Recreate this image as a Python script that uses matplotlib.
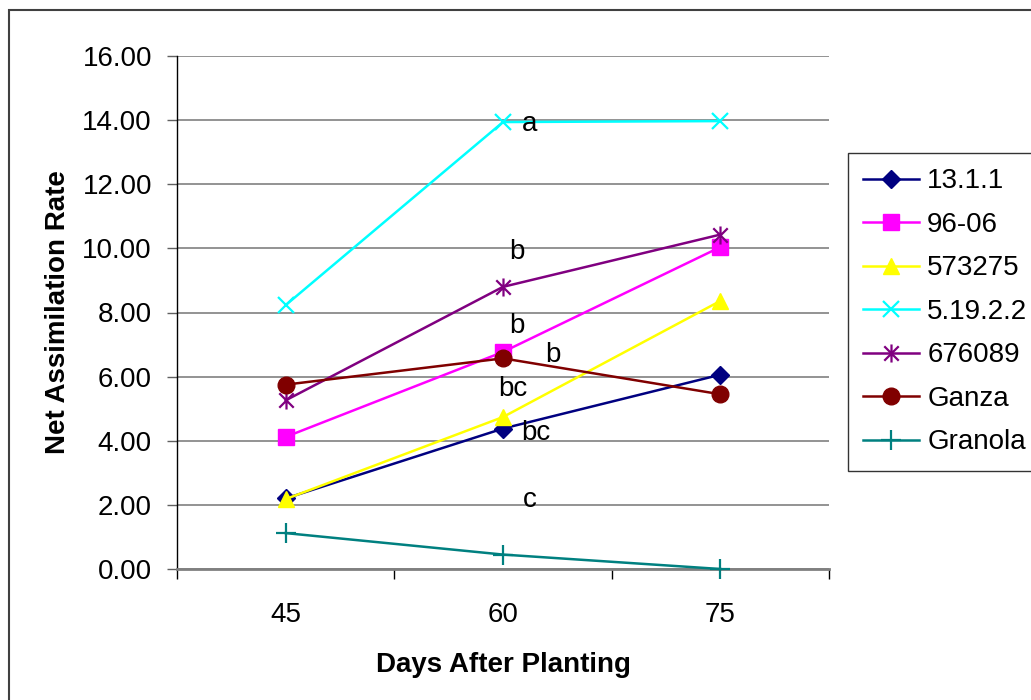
import matplotlib
matplotlib.use("Agg")
import matplotlib.pyplot as plt
from matplotlib.patches import Rectangle
from matplotlib.path import Path
import numpy as np

plt.rcParams["font.family"] = ["Liberation Sans", "DejaVu Sans"]

days = ["45", "60", "75"]
series_names = ["13.1.1", "96-06", "573275", "5.19.2.2", "676089", "Ganza", "Granola"]
v_13_1_1 = [2.20, 4.38, 6.06]
v_96_06 = [4.12, 6.77, 10.04]
v_573275 = [2.18, 4.74, 8.36]
v_5_19_2_2 = [8.23, 13.94, 13.97]
v_676089 = [5.26, 8.80, 10.43]
v_ganza = [5.75, 6.57, 5.45]
v_granola = [1.12, 0.45, 0.00]

# significance letters at 60 DAP (category position, value)
sig_letters = ["a", "b", "b", "b", "bc", "bc", "c"]
sig_x = [1.62, 1.565, 1.565, 1.73, 1.546, 1.652, 1.624]
sig_y = [13.88, 9.89, 7.58, 6.67, 5.61, 4.24, 2.15]

# asterisk marker like Excel: an x with a vertical bar
star = Path([(-1, -1), (1, 1), (-1, 1), (1, -1), (0, -1.25), (0, 1.25)],
            [Path.MOVETO, Path.LINETO, Path.MOVETO, Path.LINETO, Path.MOVETO, Path.LINETO])

styles = [
    ("#000080", "D", 9),
    ("#FF00FF", "s", 11),
    ("#FFFF00", "^", 12),
    ("#00FFFF", "x", 12),
    ("#800080", star, 13),
    ("#800000", "o", 12),
    ("#008080", "+", 14),
]
values = [v_13_1_1, v_96_06, v_573275, v_5_19_2_2, v_676089, v_ganza, v_granola]

fig = plt.figure(figsize=(10.31, 7.00), dpi=100)
ax = fig.add_axes([177 / 1031, 131 / 700, 652 / 1031, 513 / 700])

xpos = np.arange(len(days)) + 0.5
for name, vals, (col, mk, ms) in zip(series_names, values, styles):
    ax.plot(xpos, vals, color=col, lw=1.8, marker=mk, markersize=ms,
            markeredgewidth=1.6 if mk in ("x", "+") or mk is star else 1.0,
            markerfacecolor=col, markeredgecolor=col, label=name, clip_on=False, zorder=3)

for t, x, y in zip(sig_letters, sig_x, sig_y):
    ax.text(x, y, t, fontsize=20, ha="center", va="center", zorder=4)

ax.set_xlim(0, 3)
ax.set_ylim(0, 16)
ax.set_yticks(np.arange(0, 17, 2))
ax.set_yticklabels([f"{v:.2f}" for v in np.arange(0, 17, 2)])
ax.yaxis.grid(True, color="#808080", lw=1.2)
ax.set_axisbelow(True)

ax.set_xticks([0, 1, 2, 3])
ax.set_xticklabels([])
ax.set_xticks(xpos, minor=True)
ax.set_xticklabels(days, minor=True)
ax.tick_params(axis="x", which="major", length=7, width=1, color="black", direction="out")
ax.tick_params(axis="x", which="minor", length=0, pad=24, labelsize=20)
ax.tick_params(axis="y", length=7, width=1, color="#606060", direction="out", pad=11, labelsize=20)

for s in ["top", "right"]:
    ax.spines[s].set_visible(False)
ax.spines["left"].set_color("black")
ax.spines["left"].set_linewidth(1.0)
ax.spines["bottom"].set_color("#808080")
ax.spines["bottom"].set_linewidth(2.0)

ax.set_xlabel("Days After Planting", fontsize=20, fontweight="bold", labelpad=17)
ax.set_ylabel("Net Assimilation Rate", fontsize=20, fontweight="bold", labelpad=8)

leg = ax.legend(loc="upper left", bbox_to_anchor=(848 / 1031, 1 - 153 / 700),
                bbox_transform=fig.transFigure, fontsize=20, frameon=True, fancybox=False,
                edgecolor="black", handlelength=2.0, handletextpad=0.3, labelspacing=0.63,
                borderpad=0.55, borderaxespad=0)
leg.get_frame().set_linewidth(1.0)

# outer chart border (right/bottom edges fall outside the picture)
fig.patches.append(Rectangle((9 / 1031, -0.1), 1.2, 1.1 - 10 / 700, transform=fig.transFigure,
                             fill=False, edgecolor="#404040", lw=1.5))

fig.savefig("out.png", dpi=100)
